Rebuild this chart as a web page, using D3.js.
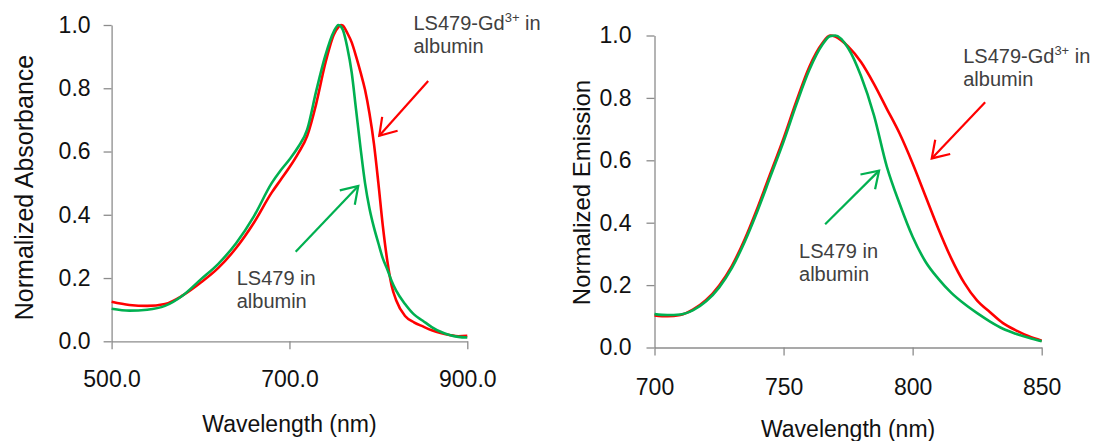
<!DOCTYPE html>
<html>
<head>
<meta charset="utf-8">
<script src="https://cdn.jsdelivr.net/npm/d3@7"></script>
<style>
  body { margin: 0; background: #fff; }
  text { font-family: "Liberation Sans", Arial, sans-serif; }
</style>
</head>
<body>
<script>
// Absorbance spectra (left panel)
var absWavelength = [500, 520, 540, 560, 580, 600, 620, 640, 660, 680, 690, 700, 710, 720, 730, 740, 750, 755, 758, 760, 765, 770, 775, 780, 785, 790, 795, 800, 805, 810, 815, 820, 830, 840, 850, 860, 870, 880, 890, 900];
var absGd = [0.125, 0.115, 0.112, 0.118, 0.145, 0.185, 0.232, 0.295, 0.375, 0.47, 0.51, 0.55, 0.595, 0.65, 0.75, 0.875, 0.97, 0.993, 1.0, 0.998, 0.975, 0.945, 0.9, 0.85, 0.795, 0.72, 0.625, 0.5, 0.365, 0.255, 0.175, 0.13, 0.08, 0.06, 0.047, 0.035, 0.026, 0.02, 0.016, 0.017];
var absFree = [0.103, 0.097, 0.1, 0.112, 0.145, 0.195, 0.245, 0.31, 0.395, 0.5, 0.54, 0.575, 0.615, 0.67, 0.79, 0.9, 0.98, 1.0, 0.995, 0.985, 0.93, 0.85, 0.73, 0.61, 0.5, 0.42, 0.36, 0.31, 0.262, 0.228, 0.19, 0.16, 0.118, 0.085, 0.065, 0.045, 0.03, 0.02, 0.014, 0.012];

// Emission spectra (right panel)
var emWavelength = [700, 705, 710, 715, 720, 725, 730, 735, 740, 745, 750, 755, 760, 765, 768, 770, 775, 780, 785, 790, 795, 800, 805, 810, 815, 820, 825, 830, 835, 840, 845, 850];
var emGd = [0.103, 0.1, 0.104, 0.122, 0.152, 0.198, 0.262, 0.348, 0.45, 0.56, 0.67, 0.79, 0.9, 0.975, 1.0, 0.997, 0.965, 0.915, 0.845, 0.765, 0.685, 0.59, 0.485, 0.38, 0.285, 0.207, 0.15, 0.113, 0.078, 0.055, 0.036, 0.022];
var emFree = [0.107, 0.104, 0.106, 0.12, 0.148, 0.192, 0.255, 0.34, 0.44, 0.55, 0.66, 0.78, 0.89, 0.97, 0.998, 1.0, 0.96, 0.87, 0.745, 0.58, 0.46, 0.355, 0.275, 0.22, 0.175, 0.14, 0.11, 0.083, 0.06, 0.044, 0.031, 0.02];

// Tick values
var absXTicks = [500, 700, 900];
var emXTicks = [700, 750, 800, 850];
var yTicks = [0, 0.2, 0.4, 0.6, 0.8, 1.0];

// Annotation arrows and labels, in data units [wavelength, value]
var absArrows = [
    { color: "#ff0000", from: [856, 0.823], to: [801, 0.65] },
    { color: "#00b050", from: [707, 0.283], to: [777.4, 0.491] }
];
var absLabels = [
    { gd: true, at: [839.5, 0.984] },
    { gd: false, at: [640.7, 0.178] }
];
var emArrows = [
    { color: "#ff0000", from: [828.1, 0.786], to: [807.4, 0.606] },
    { color: "#00b050", from: [766.1, 0.395], to: [787, 0.567] }
];
var emLabels = [
    { gd: true, at: [819.6, 0.911] },
    { gd: false, at: [756, 0.286] }
];

var w = 1093;
var h = 441;
var red = "#ff0000";
var green = "#00b050";

var svg = d3.select("body")
    .append("svg")
    .attr("width", w)
    .attr("height", h);

// Draw one panel
function panel(opt) {
    var x = d3.scaleLinear().domain(opt.xDomain).range(opt.xRange);
    var y = d3.scaleLinear().domain([0, 1]).range(opt.yRange);
    var g = svg.append("g");

    // y axis
    var ya = g.append("g")
        .attr("transform", "translate(" + opt.xRange[0] + ",0)")
        .call(d3.axisLeft(y).tickValues(yTicks).tickFormat(d3.format(".1f"))
            .tickSize(8).tickSizeOuter(0).tickPadding(opt.yPad));
    // x axis
    var xa = g.append("g")
        .attr("transform", "translate(0," + opt.yRange[0] + ")")
        .call(d3.axisBottom(x).tickValues(opt.xTicks).tickFormat(d3.format(opt.xFormat))
            .tickSize(8).tickSizeOuter(0).tickPadding(opt.xPad));

    [ya, xa].forEach(function(a) {
        a.selectAll("path, line").attr("stroke", "#8c8c8c").attr("stroke-width", 1.3);
        a.selectAll("text").attr("font-size", 23).attr("fill", "#111");
    });

    // axis titles
    g.append("text")
        .attr("x", (opt.xRange[0] + opt.xRange[1]) / 2)
        .attr("y", opt.xTitleY)
        .attr("text-anchor", "middle")
        .attr("font-size", 23)
        .attr("fill", "#111")
        .text("Wavelength (nm)");
    g.append("text")
        .attr("transform", "translate(" + opt.yTitleX + "," + opt.yTitleY + ") rotate(-90)")
        .attr("text-anchor", "middle")
        .attr("font-size", opt.yTitleSize)
        .attr("fill", "#111")
        .text(opt.yTitle);

    // spectra
    var line = d3.line()
        .x(function(d) { return x(d[0]); })
        .y(function(d) { return y(d[1]); })
        .curve(d3.curveMonotoneX);
    [[opt.gd, red], [opt.free, green]].forEach(function(s) {
        g.append("path")
            .datum(opt.wl.map(function(v, i) { return [v, s[0][i]]; }))
            .attr("fill", "none")
            .attr("stroke", s[1])
            .attr("stroke-width", 2.6)
            .attr("d", line);
    });

    // arrows
    opt.arrows.forEach(function(a) {
        var x0 = x(a.from[0]), y0 = y(a.from[1]);
        var x1 = x(a.to[0]), y1 = y(a.to[1]);
        var ang = Math.atan2(y0 - y1, x0 - x1);
        var len = 19, spread = 33 * Math.PI / 180;
        g.append("line")
            .attr("x1", x0).attr("y1", y0).attr("x2", x1).attr("y2", y1)
            .attr("stroke", a.color).attr("stroke-width", 2.2);
        g.append("path")
            .attr("d", "M" + (x1 + len * Math.cos(ang - spread)) + "," + (y1 + len * Math.sin(ang - spread)) +
                "L" + x1 + "," + y1 +
                "L" + (x1 + len * Math.cos(ang + spread)) + "," + (y1 + len * Math.sin(ang + spread)))
            .attr("fill", "none")
            .attr("stroke", a.color).attr("stroke-width", 2.2);
    });

    // labels
    opt.labels.forEach(function(l) {
        var t = g.append("text")
            .attr("x", x(l.at[0]))
            .attr("y", y(l.at[1]))
            .attr("font-size", 20)
            .attr("fill", "#404040");
        if (l.gd) {
            t.append("tspan").text("LS479-Gd");
            t.append("tspan").attr("font-size", 13).attr("dy", -8).text("3+");
            t.append("tspan").attr("dy", 8).text(" in");
        } else {
            t.append("tspan").text("LS479 in");
        }
        g.append("text")
            .attr("x", x(l.at[0]))
            .attr("y", y(l.at[1]) + 23)
            .attr("font-size", 20)
            .attr("fill", "#404040")
            .text("albumin");
    });
}

panel({
    xDomain: [500, 900], xRange: [111.6, 467.3], yRange: [341.3, 25],
    xTicks: absXTicks, xFormat: ".1f", yPad: 13, xPad: 21,
    xTitleY: 432, yTitleX: 33, yTitleY: 187.5, yTitleSize: 25, yTitle: "Normalized Absorbance",
    wl: absWavelength, gd: absGd, free: absFree, arrows: absArrows, labels: absLabels
});

panel({
    xDomain: [700, 850], xRange: [654.5, 1041.7], yRange: [347.5, 35.5],
    xTicks: emXTicks, xFormat: "d", yPad: 15, xPad: 23,
    xTitleY: 437, yTitleX: 590, yTitleY: 192.5, yTitleSize: 24, yTitle: "Normalized Emission",
    wl: emWavelength, gd: emGd, free: emFree, arrows: emArrows, labels: emLabels
});
</script>
</body>
</html>
